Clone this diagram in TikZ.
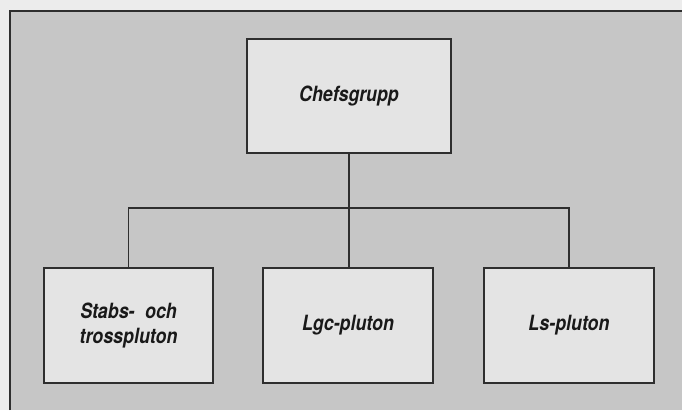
\documentclass[tikz,border=0pt]{standalone}
\usepackage{fontspec}
\setmainfont{TeX Gyre Heros}[FakeStretch=0.85]
\definecolor{paper}{HTML}{ECECEC}
\definecolor{panel}{HTML}{C6C6C6}
\definecolor{boxfill}{HTML}{E4E4E4}
\definecolor{ink}{HTML}{2E2E2E}
\tikzset{
  orgbox/.style={draw=ink, line width=1.6pt, fill=boxfill, minimum width=#1, align=center,
    font=\fontsize{21}{25}\selectfont\bfseries\itshape, text=black!90},
  orgbox/.default=170pt,
  link/.style={draw=ink, line width=1.4pt}
}
\begin{document}
\begin{tikzpicture}[x=1pt,y=-1pt]
\useasboundingbox (0,0) rectangle (682,410);
\fill[paper] (0,0) rectangle (682,410);
\fill[panel] (10,11) rectangle (682,410);
\draw[ink, line width=1.4pt] (10,410) -- (10,11) -- (682,11);
\node[orgbox=204pt, minimum height=114pt] (chef) at (349,96) {Chefsgrupp};
\node[orgbox=169pt, minimum height=115pt] (stab) at (128.5,325.5) {Stabs-\enspace och\\trosspluton};
\node[orgbox=170pt, minimum height=115pt] (lgc) at (348,325.5) {Lgc-pluton};
\node[orgbox=170pt, minimum height=115pt] (ls) at (569,325.5) {Ls-pluton};
\coordinate (bus) at (349,208);
\draw[link] (chef.south) -- (bus);
\draw[link] (stab.north) |- (bus) -| (ls.north);
\draw[link] (bus) -- (lgc.north -| bus);
\end{tikzpicture}
\end{document}
